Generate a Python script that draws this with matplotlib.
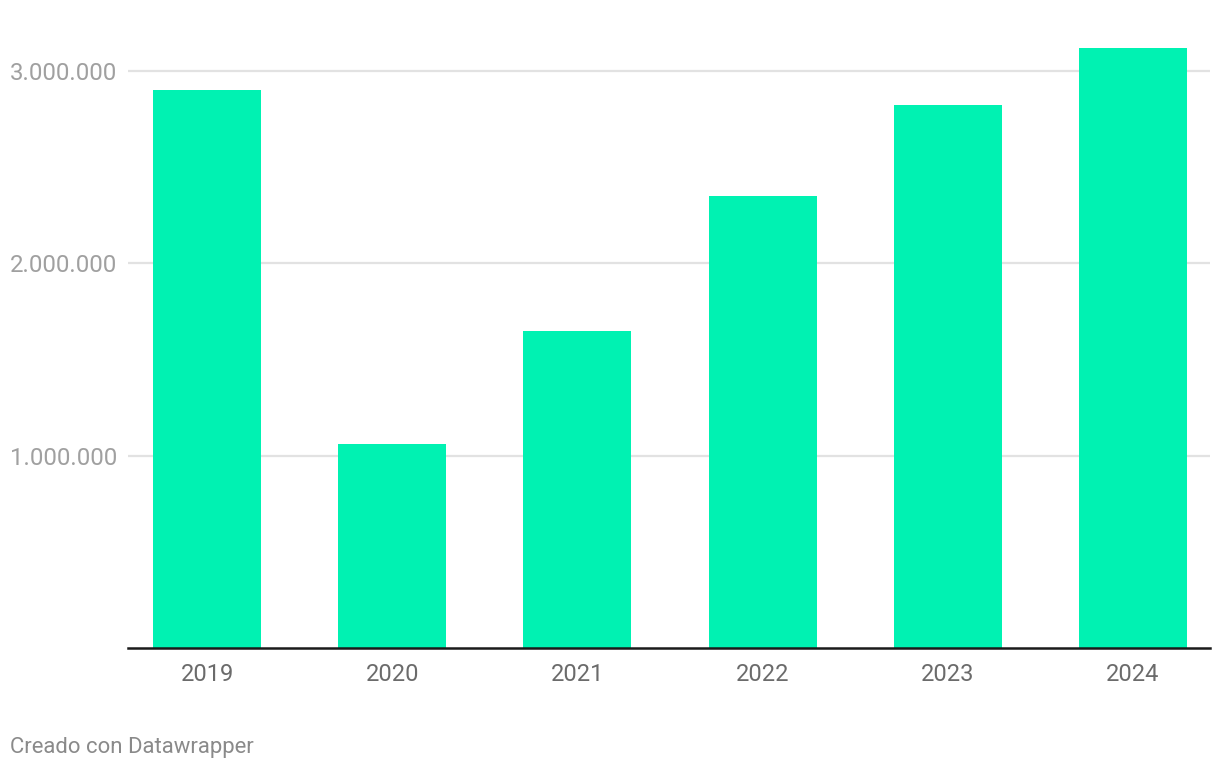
import matplotlib.pyplot as plt
from matplotlib.ticker import FuncFormatter

plt.rcParams['font.family'] = ['Roboto', 'DejaVu Sans']

years = ['2019', '2020', '2021', '2022', '2023', '2024']
values = [2900000, 1062000, 1648000, 2350000, 2824000, 3120000]
y_ticks = [1000000, 2000000, 3000000]

bar_color = '#00f2b2'
grid_color = '#e2e2e2'

W, H = 1220, 770
fig = plt.figure(figsize=(W / 100, H / 100), dpi=100)
# axes placed in pixel terms: left 128, right 1210, bottom 648, top 30
ax = fig.add_axes([128 / W, (H - 648) / H, (1210 - 128) / W, (648 - 30) / H])

px_per_unit = 185.2
ax.set_xlim(-(207 - 128) / px_per_unit, (1210 - 207) / px_per_unit)
px_per_val = (648 - 71) / 3000000
ax.set_ylim(0, (648 - 30) / px_per_val)

x = range(len(years))
ax.bar(x, values, width=108 / px_per_unit, color=bar_color, zorder=2)

ax.set_yticks(y_ticks)
ax.yaxis.set_major_formatter(FuncFormatter(lambda v, p: f"{int(v):,}".replace(',', '.')))
ax.grid(axis='y', color=grid_color, linewidth=1.6, zorder=0)
ax.tick_params(axis='y', length=0, pad=85, labelsize=17.3, labelcolor='#a0a0a0')
for lbl in ax.get_yticklabels():
    lbl.set_horizontalalignment('left')

ax.set_xticks(list(x))
ax.set_xticklabels(years)
ax.tick_params(axis='x', length=0, pad=11, labelsize=17, labelcolor='#6b6b6b')

for side in ['top', 'right', 'left']:
    ax.spines[side].set_visible(False)
ax.spines['bottom'].set_color('#1a1a1a')
ax.spines['bottom'].set_linewidth(1.8)
ax.spines['bottom'].set_zorder(3)

fig.text(10 / W, 1 - 748 / H, 'Creado con Datawrapper', fontsize=15.9,
         color='#8a8a8a', ha='left', va='center')

fig.savefig('out.png', dpi=100, facecolor='white')
